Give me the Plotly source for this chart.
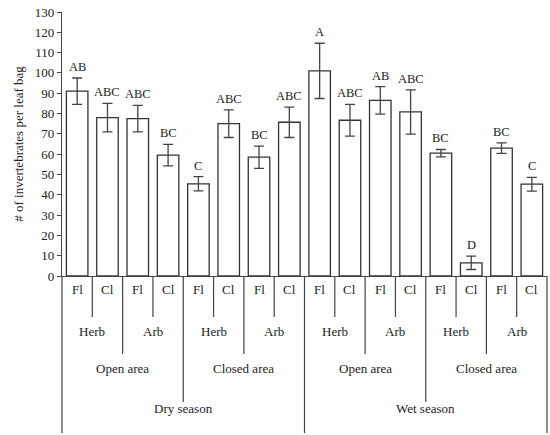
import plotly.graph_objects as go

# ---- data ----
seasons = ["Dry season", "Wet season"]
areas = ["Open area", "Closed area"]
habitats = ["Herb", "Arb"]
treatments = ["Fl", "Cl"]

means = [91, 78, 77.5, 59.5, 45.4, 75, 58.5, 75.7,
         101, 76.7, 86.5, 80.8, 60.5, 6.5, 63, 45.2]
errors = [6.5, 7, 6.5, 5.3, 3.5, 6.8, 5.5, 7.5,
          13.6, 7.8, 6.8, 10.9, 1.8, 3.3, 2.6, 3.4]
letters = ["AB", "ABC", "ABC", "BC", "C", "ABC", "BC", "ABC",
           "A", "ABC", "AB", "ABC", "BC", "D", "BC", "C"]

y_ticks = list(range(0, 131, 10))
y_title = "# of invertebrates per leaf bag"

# ---- layout constants (pixels) ----
W, H = 550, 435
ML, MR, MT, MB = 62, 3, 12, 159
plot_h = H - MT - MB
FONT = "Liberation Serif"
INK = "#222222"
LINE = "#444444"

def py(pix):
    """pixel row -> paper y"""
    return (H - MB - pix) / plot_h

n = len(means)
x = list(range(n))
tick_labels = [treatments[i % 2] for i in range(n)]

fig = go.Figure()
fig.add_trace(go.Bar(
    x=x, y=means, width=0.71,
    marker=dict(color="white", line=dict(color="#333333", width=1.3)),
    error_y=dict(type="data", array=errors, visible=True,
                 color=LINE, thickness=1.3, width=5),
    showlegend=False, hoverinfo="y",
))

# significance letters
for i in range(n):
    fig.add_annotation(x=x[i], y=means[i] + errors[i], xref="x", yref="y",
                       text=letters[i], showarrow=False, yanchor="bottom",
                       yshift=2, font=dict(family=FONT, size=12.5, color=INK))

# hierarchical category labels
row_y = {"t": 289, "h": 331, "a": 368, "s": 408}
for i in range(n):
    fig.add_annotation(x=x[i], y=py(row_y["t"]), xref="x", yref="paper",
                       text=tick_labels[i], showarrow=False, yanchor="middle",
                       font=dict(family=FONT, size=13, color=INK))
for j in range(n // 2):
    fig.add_annotation(x=2 * j + 0.5, y=py(row_y["h"]), xref="x", yref="paper",
                       text=habitats[j % 2], showarrow=False, yanchor="middle",
                       font=dict(family=FONT, size=13, color=INK))
for j in range(n // 4):
    fig.add_annotation(x=4 * j + 1.5, y=py(row_y["a"]), xref="x", yref="paper",
                       text=areas[j % 2], showarrow=False, yanchor="middle",
                       font=dict(family=FONT, size=13, color=INK))
for j in range(n // 8):
    fig.add_annotation(x=8 * j + 3.5, y=py(row_y["s"]), xref="x", yref="paper",
                       text=seasons[j % 2], showarrow=False, yanchor="middle",
                       font=dict(family=FONT, size=13, color=INK))

# separator lines below the axis
for b in range(n + 1):
    if b % 8 == 0:
        depth = 433
    elif b % 4 == 0:
        depth = 402
    elif b % 2 == 0:
        depth = 354
    else:
        depth = 317
    fig.add_shape(type="line", xref="paper", yref="paper",
                  x0=b / n, x1=b / n, y0=0, y1=py(depth),
                  line=dict(color=LINE, width=1.2))

fig.update_layout(
    width=W, height=H,
    margin=dict(l=ML, r=MR, t=MT, b=MB, pad=0, autoexpand=False),
    paper_bgcolor="white", plot_bgcolor="white",
    font=dict(family=FONT, size=13, color=INK),
    bargap=0.29,
    xaxis=dict(range=[-0.5, n - 0.5], showticklabels=False, ticks="",
               showgrid=False, zeroline=False, showline=True, automargin=False,
               linecolor=LINE, linewidth=1.2, fixedrange=True),
    yaxis=dict(range=[0, 130], tickvals=y_ticks, ticks="outside", ticklen=4,
               tickcolor=LINE, tickwidth=1.2, showgrid=False, zeroline=False,
               showline=True, linecolor=LINE, linewidth=1.2, automargin=False,
               tickfont=dict(family=FONT, size=13, color=INK),
               title=dict(text=y_title, standoff=8,
                          font=dict(family=FONT, size=13, color=INK)),
               fixedrange=True),
)

fig.write_html(
    "out.html",
    config={"displayModeBar": False},
    post_script="document.body.style.margin='0';document.body.style.overflow='hidden';",
)
